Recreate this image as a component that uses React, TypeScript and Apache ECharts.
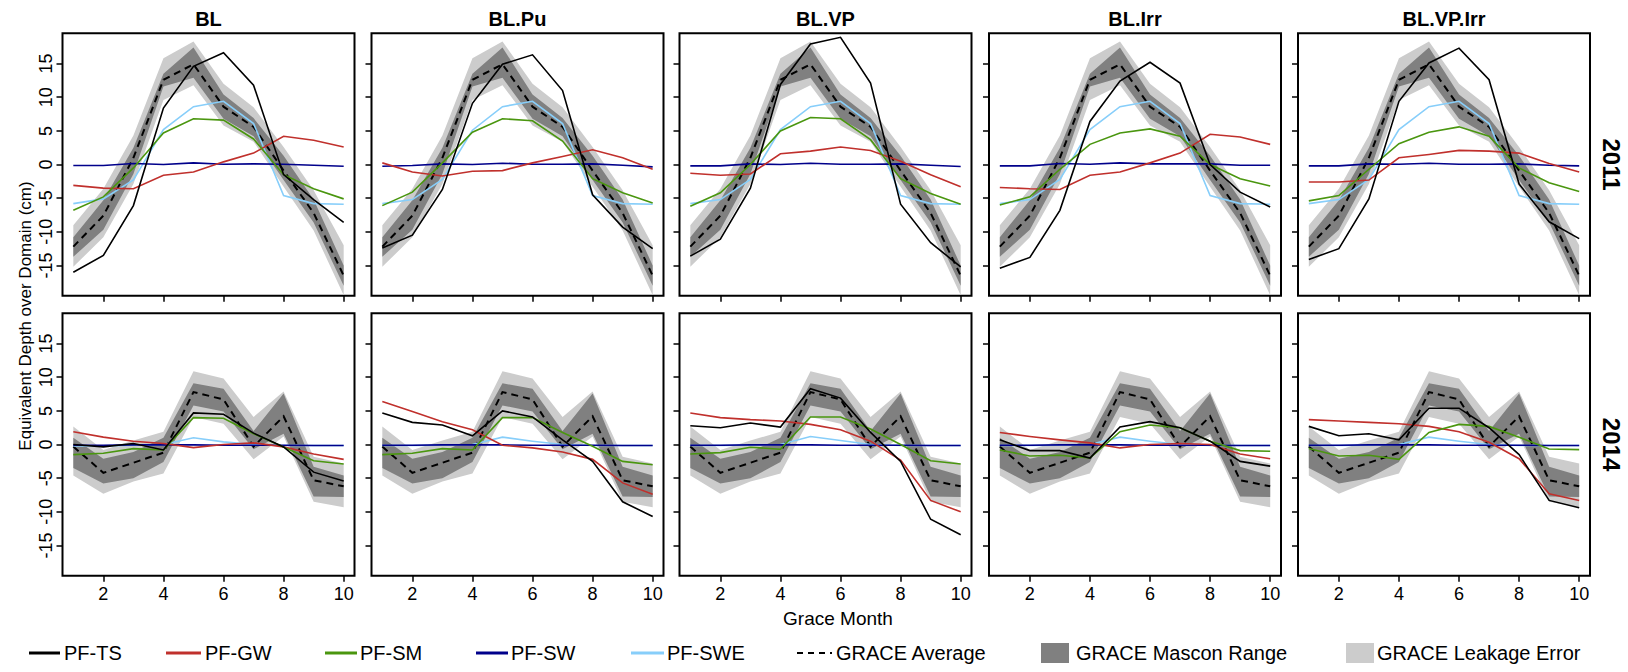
import React, { useEffect, useRef } from "react";
import * as echarts from "echarts";

// ---------------- DATA ----------------
const months = [1, 2, 3, 4, 5, 6, 7, 8, 9, 10];
const panelNames = ["BL", "BL.Pu", "BL.VP", "BL.Irr", "BL.VP.Irr"];
const yearLabels = ["2011", "2014"];
const xTickValues = [2, 4, 6, 8, 10];
const yTickValues = [-15, -10, -5, 0, 5, 10, 15];

// GRACE (same for every panel of a row)
const grace2011Avg = [-12.2, -7.6, 1.0, 12.6, 14.9, 8.6, 5.6, -0.9, -7.2, -16.5];
const grace2011MasconLo = [-13.7, -9.7, -1.4, 11.6, 12.9, 6.8, 4.2, -2.3, -8.6, -18.0];
const grace2011MasconHi = [-10.8, -5.3, 2.5, 13.5, 17.4, 10.4, 6.9, 1.3, -5.2, -15.0];
const grace2011LeakLo = [-15.2, -10.8, -2.9, 9.6, 11.8, 5.8, 3.4, -3.3, -9.8, -19.4];
const grace2011LeakHi = [-9.0, -3.6, 4.3, 15.8, 18.3, 12.0, 8.5, 2.6, -3.8, -12.0];

const grace2014Avg = [-0.3, -4.2, -2.7, -1.2, 7.8, 6.7, -0.3, 4.2, -5.3, -6.2];
const grace2014MasconLo = [-3.5, -5.8, -5.0, -2.6, 5.8, 4.9, -0.7, 1.6, -7.7, -7.8];
const grace2014MasconHi = [1.0, -2.1, -1.1, 1.0, 9.1, 8.3, 2.0, 7.6, -3.3, -4.6];
const grace2014LeakLo = [-4.6, -7.3, -5.5, -4.3, 4.1, 3.1, -2.2, 1.2, -8.5, -9.3];
const grace2014LeakHi = [2.7, -0.8, 0.6, 1.9, 10.9, 9.8, 4.1, 7.9, -1.8, -2.8];

// 2011 panels
const tsBL2011 = [-16.0, -13.5, -6.1, 8.4, 14.6, 16.6, 11.8, -1.5, -5.2, -8.6];
const gwBL2011 = [-3.1, -3.5, -3.6, -1.6, -1.1, 0.4, 1.7, 4.2, 3.6, 2.6];
const smBL2011 = [-6.8, -4.8, -0.5, 4.7, 6.8, 6.6, 3.8, -1.5, -3.6, -5.1];
const swBL2011 = [-0.15, -0.15, 0.15, 0.0, 0.25, 0.05, 0.1, 0.05, -0.1, -0.25];
const sweBL2011 = [-5.8, -5.1, -2.3, 5.2, 8.6, 9.4, 6.1, -4.6, -5.8, -5.9];

const tsPu2011 = [-12.4, -10.5, -3.7, 9.1, 14.9, 16.3, 11.0, -4.5, -9.3, -12.5];
const gwPu2011 = [0.25, -1.1, -1.7, -1.0, -0.9, 0.25, 1.2, 2.2, 1.0, -0.7];
const smPu2011 = [-6.1, -4.1, 0.25, 4.8, 6.8, 6.5, 3.5, -2.1, -4.2, -5.7];
const swPu2011 = [-0.25, -0.15, 0.1, 0.0, 0.2, 0.05, 0.05, 0.1, -0.1, -0.35];
const swePu2011 = [-5.8, -5.2, -2.2, 5.1, 8.6, 9.4, 6.1, -4.6, -5.8, -5.9];

const tsVP2011 = [-13.6, -11.1, -3.5, 11.9, 17.9, 18.9, 12.1, -5.9, -11.6, -15.2];
const gwVP2011 = [-1.3, -1.6, -1.4, 1.6, 2.0, 2.6, 2.1, 0.5, -1.5, -3.3];
const smVP2011 = [-6.2, -4.2, 0.0, 5.0, 7.0, 6.8, 3.7, -2.1, -4.3, -5.9];
const swVP2011 = [-0.2, -0.2, 0.1, 0.0, 0.2, 0.05, 0.05, 0.1, -0.1, -0.3];
const sweVP2011 = [-5.8, -5.2, -2.2, 5.2, 8.6, 9.4, 6.1, -4.6, -5.8, -5.9];

const tsIrr2011 = [-15.4, -13.8, -6.8, 6.4, 12.4, 15.2, 12.1, 0.0, -4.1, -6.3];
const gwIrr2011 = [-3.4, -3.6, -3.7, -1.6, -1.1, 0.25, 1.7, 4.5, 4.1, 3.0];
const smIrr2011 = [-6.0, -4.8, -0.7, 3.0, 4.7, 5.3, 4.2, 0.0, -2.1, -3.2];
const swIrr2011 = [-0.2, -0.2, 0.15, 0.05, 0.25, 0.1, 0.1, 0.1, -0.1, -0.1];
const sweIrr2011 = [-5.8, -5.2, -2.2, 5.2, 8.6, 9.4, 6.1, -4.6, -5.8, -5.9];

const tsVPIrr2011 = [-14.1, -12.5, -5.1, 9.4, 15.1, 17.3, 12.6, -2.9, -8.5, -11.0];
const gwVPIrr2011 = [-2.6, -2.6, -2.3, 1.0, 1.5, 2.1, 2.0, 1.7, 0.15, -1.1];
const smVPIrr2011 = [-5.4, -4.6, -0.7, 3.1, 4.8, 5.6, 4.2, -0.5, -2.7, -4.0];
const swVPIrr2011 = [-0.2, -0.2, 0.1, 0.05, 0.2, 0.05, 0.05, 0.1, -0.1, -0.2];
const sweVPIrr2011 = [-5.8, -5.2, -2.2, 5.2, 8.6, 9.4, 6.1, -4.6, -5.8, -5.9];

// 2014 panels
const tsBL2014 = [0.0, -0.35, 0.15, -0.8, 4.7, 4.5, 1.7, -0.35, -4.1, -5.4];
const gwBL2014 = [1.9, 1.1, 0.5, 0.15, -0.45, 0.0, 0.25, -0.35, -1.4, -2.2];
const smBL2014 = [-1.5, -1.3, -0.6, -0.8, 4.0, 3.9, 1.6, -0.35, -2.4, -2.9];
const swBL2014 = [-0.1, -0.1, -0.05, -0.05, -0.05, -0.1, -0.1, -0.1, -0.15, -0.15];
const sweBL2014 = [-0.2, -0.2, -0.1, 0.0, 1.0, 0.4, 0.0, -0.15, -0.15, -0.15];

const tsPu2014 = [4.7, 3.3, 2.9, 1.3, 5.0, 4.1, 0.7, -2.5, -8.5, -10.7];
const gwPu2014 = [6.4, 4.9, 3.4, 2.2, -0.1, -0.5, -1.1, -2.2, -5.7, -7.4];
const smPu2014 = [-1.5, -1.3, -0.6, -0.8, 4.0, 4.0, 1.8, -0.25, -2.5, -3.0];
const swPu2014 = [-0.1, -0.1, -0.05, -0.05, -0.05, -0.1, -0.1, -0.1, -0.15, -0.15];
const swePu2014 = [-0.15, -0.15, -0.1, 0.0, 1.1, 0.5, 0.0, -0.15, -0.15, -0.15];

const tsVP2014 = [2.8, 2.5, 3.2, 2.6, 8.3, 6.9, 1.8, -2.5, -11.1, -13.4];
const gwVP2014 = [4.7, 4.0, 3.7, 3.5, 3.0, 2.2, 0.5, -2.3, -8.3, -10.0];
const smVP2014 = [-1.4, -1.2, -0.4, -0.7, 4.1, 4.1, 2.3, 0.0, -2.4, -2.9];
const swVP2014 = [-0.1, -0.1, -0.05, -0.05, -0.05, -0.1, -0.1, -0.1, -0.15, -0.15];
const sweVP2014 = [-0.15, -0.15, -0.1, 0.0, 1.2, 0.6, 0.0, -0.15, -0.15, -0.15];

const tsIrr2014 = [0.7, -0.9, -0.9, -2.0, 2.6, 3.4, 2.5, 0.5, -2.5, -3.2];
const gwIrr2014 = [1.8, 1.2, 0.7, 0.25, -0.5, 0.0, 0.15, 0.0, -1.4, -2.1];
const smIrr2014 = [-0.8, -1.7, -1.6, -2.0, 1.9, 2.9, 2.5, 0.5, -0.9, -1.0];
const swIrr2014 = [-0.1, -0.1, -0.05, -0.05, -0.05, -0.1, -0.1, -0.1, -0.15, -0.15];
const sweIrr2014 = [-0.15, -0.15, -0.1, 0.0, 1.1, 0.5, 0.0, -0.15, -0.15, -0.15];

const tsVPIrr2014 = [2.7, 1.3, 1.6, 0.7, 5.4, 5.4, 2.5, -1.5, -8.3, -9.4];
const gwVPIrr2014 = [3.7, 3.5, 3.3, 3.1, 2.7, 1.9, 0.35, -2.1, -7.3, -8.3];
const smVPIrr2014 = [-0.6, -1.7, -1.6, -2.2, 1.8, 3.0, 2.7, 1.1, -0.65, -0.75];
const swVPIrr2014 = [-0.1, -0.1, -0.05, -0.05, -0.05, -0.1, -0.1, -0.1, -0.15, -0.15];
const sweVPIrr2014 = [-0.15, -0.15, -0.1, 0.0, 1.1, 0.5, 0.0, -0.15, -0.15, -0.15];

const legendLabels = ["PF-TS", "PF-GW", "PF-SM", "PF-SW", "PF-SWE", "GRACE Average", "GRACE Mascon Range", "GRACE Leakage Error"];

// ---------------- STRUCTURE ----------------
const rows = [
  {
    avg: grace2011Avg, mLo: grace2011MasconLo, mHi: grace2011MasconHi, lLo: grace2011LeakLo, lHi: grace2011LeakHi,
    panels: [
      { ts: tsBL2011, gw: gwBL2011, sm: smBL2011, sw: swBL2011, swe: sweBL2011 },
      { ts: tsPu2011, gw: gwPu2011, sm: smPu2011, sw: swPu2011, swe: swePu2011 },
      { ts: tsVP2011, gw: gwVP2011, sm: smVP2011, sw: swVP2011, swe: sweVP2011 },
      { ts: tsIrr2011, gw: gwIrr2011, sm: smIrr2011, sw: swIrr2011, swe: sweIrr2011 },
      { ts: tsVPIrr2011, gw: gwVPIrr2011, sm: smVPIrr2011, sw: swVPIrr2011, swe: sweVPIrr2011 },
    ],
  },
  {
    avg: grace2014Avg, mLo: grace2014MasconLo, mHi: grace2014MasconHi, lLo: grace2014LeakLo, lHi: grace2014LeakHi,
    panels: [
      { ts: tsBL2014, gw: gwBL2014, sm: smBL2014, sw: swBL2014, swe: sweBL2014 },
      { ts: tsPu2014, gw: gwPu2014, sm: smPu2014, sw: swPu2014, swe: swePu2014 },
      { ts: tsVP2014, gw: gwVP2014, sm: smVP2014, sw: swVP2014, swe: sweVP2014 },
      { ts: tsIrr2014, gw: gwIrr2014, sm: smIrr2014, sw: swIrr2014, swe: sweIrr2014 },
      { ts: tsVPIrr2014, gw: gwVPIrr2014, sm: smVPIrr2014, sw: swVPIrr2014, swe: sweVPIrr2014 },
    ],
  },
];

// ---------------- STYLE / LAYOUT ----------------
const FONT = "'Liberation Sans', Arial, Helvetica, sans-serif";
const C_TS = "#000000";
const C_GW = "#c0302c";
const C_SM = "#4a960f";
const C_SW = "#00008b";
const C_SWE = "#87cefa";
const C_MASCON = "#808080";
const C_LEAK = "#cccccc";

const GRID_LEFTS = [62.5, 371.5, 679.5, 989, 1298];
const GRID_TOPS = [33.3, 313.3];
const GRID_W = 292;
const GRID_H = 262.5;
const X_MIN = 0.64;
const X_MAX = 10.36;
const Y_MIN = -19.5;
const Y_MAX = 19.5;

function bandSeries(gi: number, lo: number[], hi: number[], color: string) {
  return {
    type: "custom",
    xAxisIndex: gi,
    yAxisIndex: gi,
    silent: true,
    clip: true,
    z: 1,
    data: months.map((m, i) => [m, lo[i], hi[i]]),
    encode: { x: 0, y: [1, 2] },
    renderItem: (params: any, api: any) => {
      if (params.dataIndex !== 0) return null;
      const pts: number[][] = [];
      for (let i = 0; i < months.length; i++) pts.push(api.coord([months[i], hi[i]]));
      for (let i = months.length - 1; i >= 0; i--) pts.push(api.coord([months[i], lo[i]]));
      return { type: "polygon", shape: { points: pts }, style: { fill: color, stroke: null } };
    },
  };
}

function lineSeries(gi: number, name: string, vals: number[], color: string, width: number, dashed = false) {
  return {
    type: "line",
    name,
    xAxisIndex: gi,
    yAxisIndex: gi,
    silent: true,
    z: 3,
    symbol: "none",
    showSymbol: false,
    data: months.map((m, i) => [m, vals[i]]),
    lineStyle: { color, width, type: dashed ? [7, 5] : "solid", cap: "butt", join: "miter" },
  };
}

function buildOption() {
  const grid: any[] = [];
  const xAxis: any[] = [];
  const yAxis: any[] = [];
  const series: any[] = [];
  const graphic: any[] = [];

  rows.forEach((row, r) => {
    row.panels.forEach((p, c) => {
      const gi = r * 5 + c;
      grid.push({
        left: GRID_LEFTS[c], top: GRID_TOPS[r], width: GRID_W, height: GRID_H,
        show: true, borderColor: "#000", borderWidth: 2, backgroundColor: "transparent",
      });
      xAxis.push({
        gridIndex: gi, type: "value", min: X_MIN, max: X_MAX, position: "bottom",
        axisLine: { show: false, onZero: false },
        splitLine: { show: false },
        axisTick: { show: true, inside: false, length: 6, customValues: xTickValues, lineStyle: { color: "#000", width: 1.5 } },
        axisLabel: { show: r === 1, customValues: xTickValues, fontSize: 18, color: "#000", margin: 9, fontFamily: FONT },
      });
      yAxis.push({
        gridIndex: gi, type: "value", min: Y_MIN, max: Y_MAX, position: "left",
        axisLine: { show: false, onZero: false },
        splitLine: { show: false },
        axisTick: { show: true, inside: false, length: 6, customValues: yTickValues, lineStyle: { color: "#000", width: 1.5 } },
        axisLabel: { show: c === 0, customValues: yTickValues, rotate: 90, fontSize: 18, color: "#000", margin: 8, fontFamily: FONT },
      });
      series.push(bandSeries(gi, row.lLo, row.lHi, C_LEAK));
      series.push(bandSeries(gi, row.mLo, row.mHi, C_MASCON));
      series.push(lineSeries(gi, "GRACE Average", row.avg, "#000", 2, true));
      series.push(lineSeries(gi, "PF-SWE", p.swe, C_SWE, 1.6));
      series.push(lineSeries(gi, "PF-SW", p.sw, C_SW, 1.6));
      series.push(lineSeries(gi, "PF-GW", p.gw, C_GW, 1.6));
      series.push(lineSeries(gi, "PF-SM", p.sm, C_SM, 1.6));
      series.push(lineSeries(gi, "PF-TS", p.ts, C_TS, 1.6));
    });
  });

  // panel titles
  panelNames.forEach((name, c) => {
    graphic.push({
      type: "text", x: GRID_LEFTS[c] + GRID_W / 2, y: 19,
      style: { text: name, fill: "#000", font: `bold 20px ${FONT}`, align: "center", verticalAlign: "middle" },
    });
  });
  // year labels on the right
  yearLabels.forEach((yr, r) => {
    graphic.push({
      type: "text", x: 1611, y: GRID_TOPS[r] + GRID_H / 2, rotation: -Math.PI / 2,
      style: { text: yr, fill: "#000", font: `bold 24px ${FONT}`, align: "center", verticalAlign: "middle" },
    });
  });
  // axis titles
  graphic.push({
    type: "text", x: 25, y: 316, rotation: Math.PI / 2,
    style: { text: "Equivalent Depth over Domain (cm)", fill: "#000", font: `17px ${FONT}`, align: "center", verticalAlign: "middle" },
  });
  graphic.push({
    type: "text", x: 838, y: 618,
    style: { text: "Grace Month", fill: "#000", font: `19px ${FONT}`, align: "center", verticalAlign: "middle" },
  });

  // legend
  const LY = 653;
  const lineItems = [
    { x0: 29, x1: 60, color: C_TS, tx: 64 },
    { x0: 166, x1: 201, color: C_GW, tx: 205 },
    { x0: 325, x1: 357, color: C_SM, tx: 360 },
    { x0: 476, x1: 508, color: C_SW, tx: 511 },
    { x0: 631, x1: 664, color: C_SWE, tx: 667 },
  ];
  lineItems.forEach((it, i) => {
    graphic.push({ type: "line", shape: { x1: it.x0, y1: LY, x2: it.x1, y2: LY }, style: { stroke: it.color, lineWidth: 3 } });
    graphic.push({ type: "text", x: it.tx, y: LY, style: { text: legendLabels[i], fill: "#000", font: `20px ${FONT}`, align: "left", verticalAlign: "middle" } });
  });
  graphic.push({ type: "line", shape: { x1: 797, y1: LY, x2: 832, y2: LY }, style: { stroke: "#000", lineWidth: 2, lineDash: [6, 5] } });
  graphic.push({ type: "text", x: 836, y: LY, style: { text: legendLabels[5], fill: "#000", font: `20px ${FONT}`, align: "left", verticalAlign: "middle" } });
  graphic.push({ type: "rect", shape: { x: 1041, y: LY - 10, width: 28, height: 20 }, style: { fill: C_MASCON } });
  graphic.push({ type: "text", x: 1076, y: LY, style: { text: legendLabels[6], fill: "#000", font: `20px ${FONT}`, align: "left", verticalAlign: "middle" } });
  graphic.push({ type: "rect", shape: { x: 1346, y: LY - 10, width: 28, height: 20 }, style: { fill: C_LEAK } });
  graphic.push({ type: "text", x: 1377, y: LY, style: { text: legendLabels[7], fill: "#000", font: `20px ${FONT}`, align: "left", verticalAlign: "middle" } });

  return {
    animation: false,
    backgroundColor: "#ffffff",
    textStyle: { fontFamily: FONT },
    grid,
    xAxis,
    yAxis,
    series,
    graphic,
  };
}

export default function App() {
  const ref = useRef<HTMLDivElement>(null);
  useEffect(() => {
    if (!ref.current) return;
    const chart = echarts.init(ref.current, null, { renderer: "svg" });
    chart.setOption(buildOption() as any);
    return () => chart.dispose();
  }, []);
  return (
    <div
      ref={ref}
      style={{ position: "absolute", left: 0, top: 0, width: 1628, height: 672, background: "#fff" }}
    />
  );
}
